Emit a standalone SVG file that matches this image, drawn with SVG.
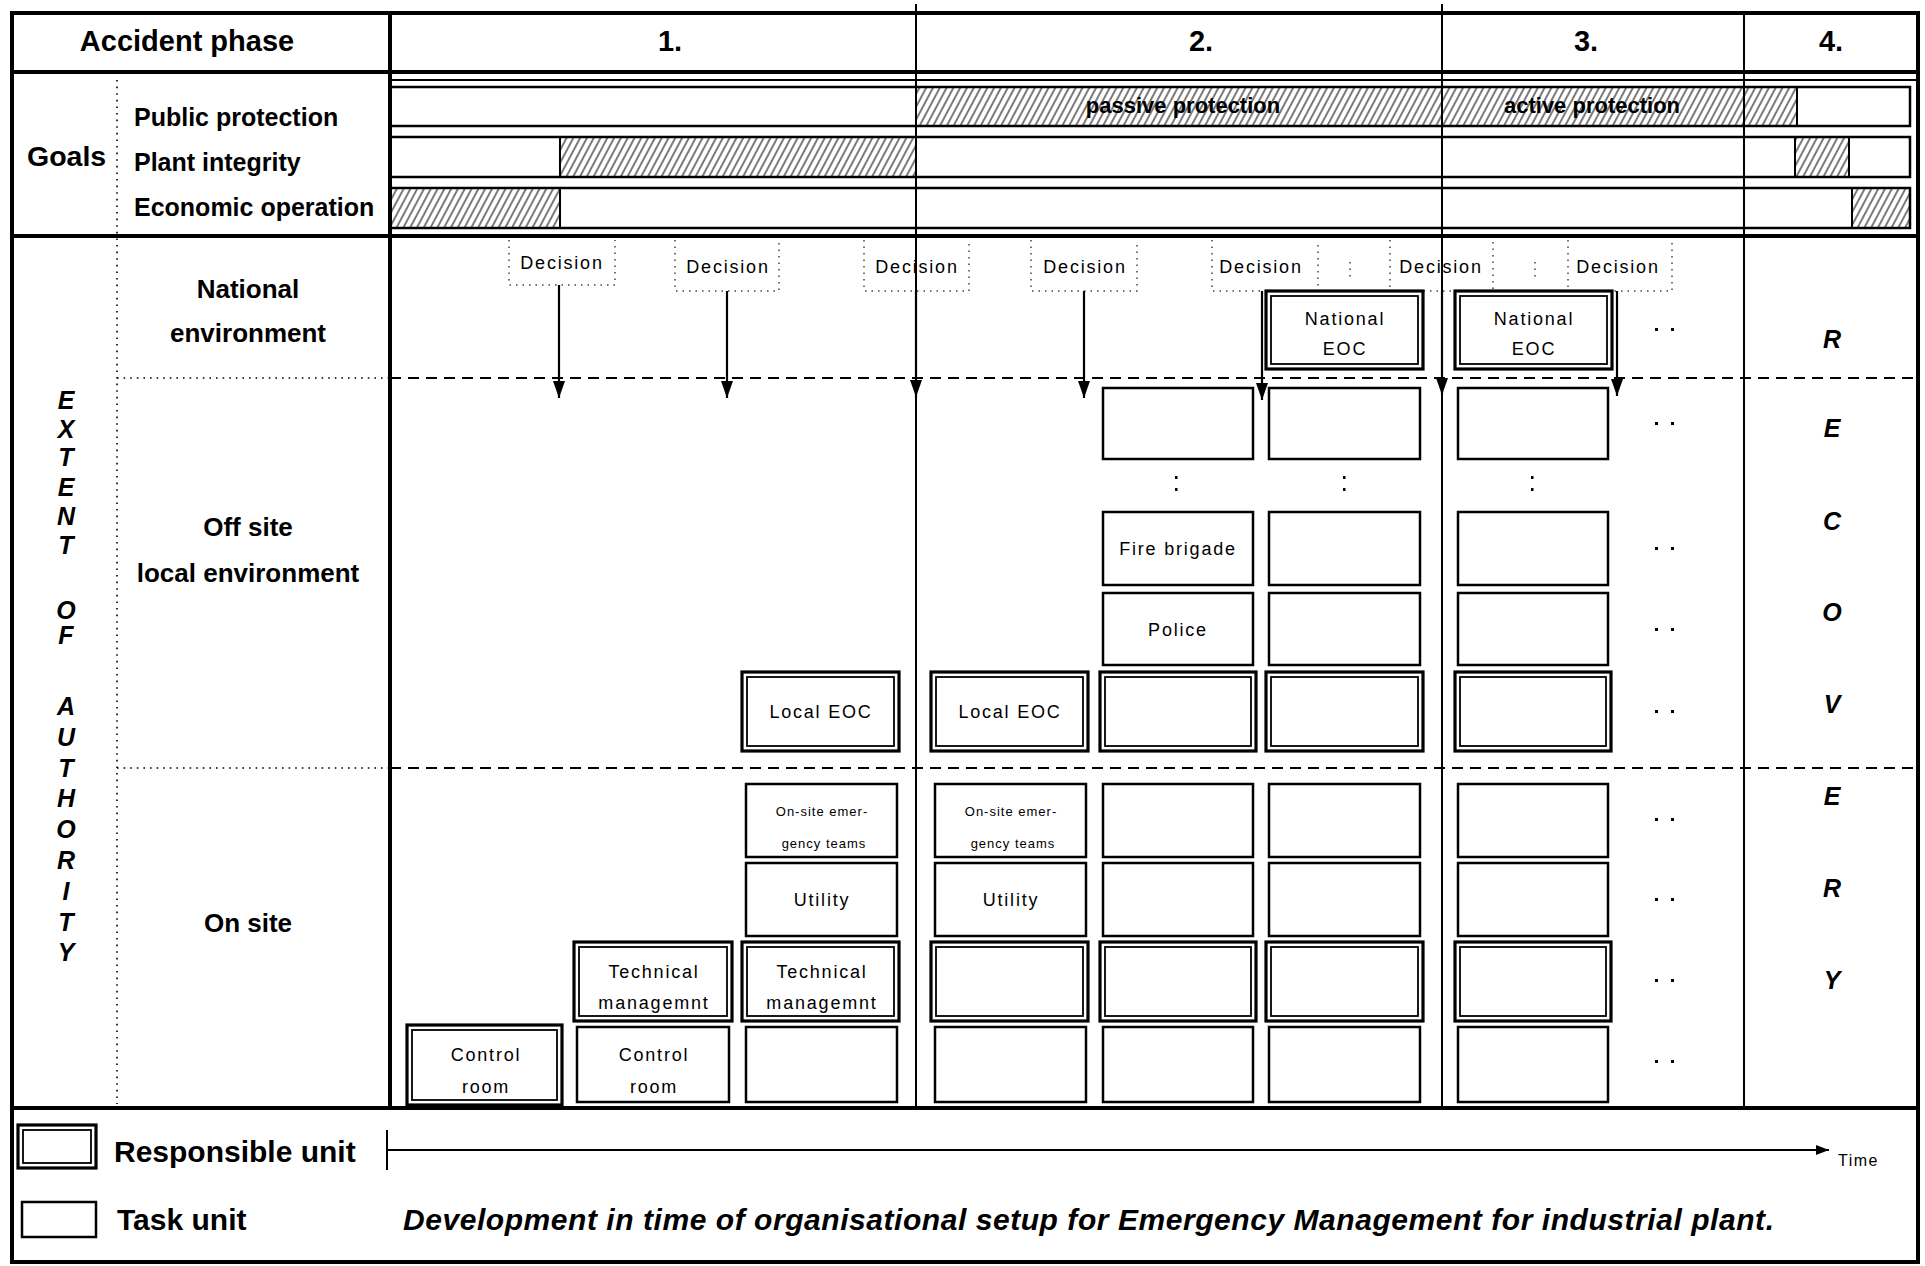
<svg xmlns="http://www.w3.org/2000/svg" width="1925" height="1266" viewBox="0 0 1925 1266">
<defs>
  <pattern id="hatch" patternUnits="userSpaceOnUse" width="6" height="12" patternTransform="rotate(28)">
    <line x1="1" y1="0" x2="1" y2="12" stroke="#333" stroke-width="1.3"/>
  </pattern>
  <marker id="arr" markerUnits="userSpaceOnUse" markerWidth="18" markerHeight="12" refX="17" refY="6" orient="auto">
    <path d="M0,0 L17,6 L0,12 z" fill="#000"/>
  </marker>
  <marker id="arrT" markerUnits="userSpaceOnUse" markerWidth="14" markerHeight="10" refX="13" refY="5" orient="auto">
    <path d="M0,0 L13,5 L0,10 z" fill="#000"/>
  </marker>
</defs>
<style>
  text { font-family: "Liberation Sans", Arial, sans-serif; fill: #000; }
  .hd { font-size: 29px; font-weight: bold; text-anchor: middle; }
  .goal { font-size: 25px; font-weight: bold; }
  .bar { font-size: 22px; font-weight: bold; text-anchor: middle; }
  .area { font-size: 26px; font-weight: bold; text-anchor: middle; }
  .vert { font-size: 25px; font-weight: bold; font-style: italic; text-anchor: middle; }
  .u { font-size: 18px; letter-spacing: 1.8px; text-anchor: middle; }
  .us { font-size: 13px; letter-spacing: 1px; text-anchor: middle; }
  .leg { font-size: 30px; font-weight: bold; }
  .cap { font-size: 30px; font-weight: bold; font-style: italic; }
  .task { fill: #fff; stroke: #000; stroke-width: 2.5; }
  .ro { fill: #fff; stroke: #000; stroke-width: 3.2; }
  .ri { fill: none; stroke: #000; stroke-width: 1.8; }
  .thick { stroke: #000; stroke-width: 4; fill: none; }
  .thin { stroke: #000; stroke-width: 2; fill: none; }
  .dash { stroke: #000; stroke-width: 2.2; stroke-dasharray: 11 7; }
  .dot { stroke: #000; stroke-width: 1.6; stroke-dasharray: 1.6 5; fill: none; }
  .dec { stroke: #444; stroke-width: 1.5; stroke-dasharray: 1.5 5; fill: none; }
  .conn { stroke: #000; stroke-width: 2.2; marker-end: url(#arr); }
  .bf { fill: none; stroke: #000; stroke-width: 2.5; }
  .hatch { fill: url(#hatch); }
</style>

<rect x="0" y="0" width="1925" height="1266" fill="#fff"/>

<!-- goal bars -->
<g id="goal-bars">
  <rect class="hatch" x="916" y="87" width="881" height="39"/>
  <rect class="hatch" x="560" y="137" width="356" height="40"/>
  <rect class="hatch" x="1795" y="137" width="54" height="40"/>
  <rect class="hatch" x="390" y="188" width="170" height="40"/>
  <rect class="hatch" x="1852" y="188" width="58" height="40"/>
  <rect class="bf" x="390" y="87" width="1520" height="39"/>
  <rect class="bf" x="390" y="137" width="1520" height="40"/>
  <rect class="bf" x="390" y="188" width="1520" height="40"/>
  <line class="thin" x1="1797" y1="87" x2="1797" y2="126"/>
  <line class="thin" x1="560" y1="137" x2="560" y2="177"/>
  <line class="thin" x1="1795" y1="137" x2="1795" y2="177"/>
  <line class="thin" x1="1849" y1="137" x2="1849" y2="177"/>
  <line class="thin" x1="560" y1="188" x2="560" y2="228"/>
  <line class="thin" x1="1852" y1="188" x2="1852" y2="228"/>
  <text class="bar" x="1183" y="113">passive protection</text>
  <text class="bar" x="1592" y="113">active protection</text>
</g>

<!-- table frame and grid lines -->
<g id="frame">
  <rect class="thick" x="12" y="13" width="1906" height="1249"/>
  <line class="thick" x1="12" y1="72" x2="1918" y2="72"/>
  <line class="thin" x1="390" y1="80" x2="1918" y2="80"/>
  <line class="thick" x1="12" y1="236" x2="1918" y2="236"/>
  <line class="thick" x1="12" y1="1108" x2="1918" y2="1108"/>
  <line class="thick" x1="390" y1="13" x2="390" y2="1108"/>
  <line class="thin" x1="916" y1="4" x2="916" y2="1108"/>
  <line class="thin" x1="1442" y1="4" x2="1442" y2="1108"/>
  <line class="thin" x1="1744" y1="13" x2="1744" y2="1108"/>
  <line class="dot" x1="117" y1="80" x2="117" y2="1104"/>
  <line class="dot" x1="117" y1="378" x2="390" y2="378"/>
  <line class="dot" x1="117" y1="768" x2="390" y2="768"/>
  <line class="dash" x1="390" y1="378" x2="1918" y2="378"/>
  <line class="dash" x1="390" y1="768" x2="1918" y2="768"/>
</g>

<!-- header and row labels -->
<g id="labels">
  <text class="hd" x="187" y="51">Accident phase</text>
  <text class="hd" x="670" y="51">1.</text>
  <text class="hd" x="1201" y="51">2.</text>
  <text class="hd" x="1586" y="51">3.</text>
  <text class="hd" x="1831" y="51">4.</text>
  <text x="27" y="166" style="font-size:28.5px;font-weight:bold">Goals</text>
  <text class="goal" x="134" y="126">Public protection</text>
  <text class="goal" x="134" y="171">Plant integrity</text>
  <text class="goal" x="134" y="216">Economic operation</text>
  <text class="area" x="248" y="298">National</text>
  <text class="area" x="248" y="342">environment</text>
  <text class="area" x="248" y="536">Off site</text>
  <text class="area" x="248" y="582">local environment</text>
  <text class="area" x="248" y="932">On site</text>
  <g id="extent-of-authority">
    <text class="vert" x="66" y="409">E</text>
    <text class="vert" x="66" y="438">X</text>
    <text class="vert" x="66" y="466">T</text>
    <text class="vert" x="66" y="496">E</text>
    <text class="vert" x="66" y="525">N</text>
    <text class="vert" x="66" y="554">T</text>
    <text class="vert" x="66" y="619">O</text>
    <text class="vert" x="66" y="644">F</text>
    <text class="vert" x="66" y="715">A</text>
    <text class="vert" x="66" y="746">U</text>
    <text class="vert" x="66" y="777">T</text>
    <text class="vert" x="66" y="807">H</text>
    <text class="vert" x="66" y="838">O</text>
    <text class="vert" x="66" y="869">R</text>
    <text class="vert" x="66" y="900">I</text>
    <text class="vert" x="66" y="931">T</text>
    <text class="vert" x="66" y="961">Y</text>
  </g>
  <g id="recovery">
    <text class="vert" x="1832" y="348">R</text>
    <text class="vert" x="1832" y="437">E</text>
    <text class="vert" x="1832" y="530">C</text>
    <text class="vert" x="1832" y="621">O</text>
    <text class="vert" x="1832" y="713">V</text>
    <text class="vert" x="1832" y="805">E</text>
    <text class="vert" x="1832" y="897">R</text>
    <text class="vert" x="1832" y="989">Y</text>
  </g>
</g>

<!-- decision points -->
<g id="decisions">
  <g id="decision-1"><path class="dec" d="M509,240 V285 H615 V240"/><text class="u" x="562" y="269">Decision</text></g>
  <g id="decision-2"><path class="dec" d="M675,240 V291 H779 V240"/><text class="u" x="728" y="273">Decision</text></g>
  <g id="decision-3"><path class="dec" d="M864,240 V291 H969 V240"/><text class="u" x="917" y="273">Decision</text></g>
  <g id="decision-4"><path class="dec" d="M1031,240 V291 H1137 V240"/><text class="u" x="1085" y="273">Decision</text></g>
  <g id="decision-5"><path class="dec" d="M1212,240 V291 H1318 V240"/><text class="u" x="1261" y="273">Decision</text></g>
  <g id="decision-6"><path class="dec" d="M1390,240 V291 H1493 V240"/><text class="u" x="1441" y="273">Decision</text></g>
  <g id="decision-7"><path class="dec" d="M1568,240 V291 H1672 V240"/><text class="u" x="1618" y="273">Decision</text></g>
  <line class="dec" x1="1350" y1="262" x2="1350" y2="278"/>
  <line class="dec" x1="1535" y1="262" x2="1535" y2="278"/>
</g>

<!-- responsible units (double frame) and task units (single frame) -->
<g id="nat-eoc-f"><rect class="ro" x="1266" y="291" width="157" height="78"/><rect class="ri" x="1271" y="296" width="147" height="68"/><text class="u" x="1345" y="325">National</text><text class="u" x="1345" y="355">EOC</text></g>
<g id="nat-eoc-g"><rect class="ro" x="1455" y="291" width="157" height="78"/><rect class="ri" x="1460" y="296" width="147" height="68"/><text class="u" x="1534" y="325">National</text><text class="u" x="1534" y="355">EOC</text></g>

<g id="off-e1"><rect class="task" x="1103" y="388" width="150" height="71"/></g>
<g id="off-f1"><rect class="task" x="1269" y="388" width="151" height="71"/></g>
<g id="off-g1"><rect class="task" x="1458" y="388" width="150" height="71"/></g>

<g id="fire-e"><rect class="task" x="1103" y="512" width="150" height="73"/><text class="u" x="1178" y="555">Fire brigade</text></g>
<g id="fire-f"><rect class="task" x="1269" y="512" width="151" height="73"/></g>
<g id="fire-g"><rect class="task" x="1458" y="512" width="150" height="73"/></g>

<g id="police-e"><rect class="task" x="1103" y="593" width="150" height="72"/><text class="u" x="1178" y="636">Police</text></g>
<g id="police-f"><rect class="task" x="1269" y="593" width="151" height="72"/></g>
<g id="police-g"><rect class="task" x="1458" y="593" width="150" height="72"/></g>

<g id="local-eoc-c"><rect class="ro" x="742" y="672" width="157" height="79"/><rect class="ri" x="747" y="677" width="147" height="69"/><text class="u" x="821" y="718">Local EOC</text></g>
<g id="local-eoc-d"><rect class="ro" x="931" y="672" width="157" height="79"/><rect class="ri" x="936" y="677" width="147" height="69"/><text class="u" x="1010" y="718">Local EOC</text></g>
<g id="local-e"><rect class="ro" x="1100" y="672" width="156" height="79"/><rect class="ri" x="1105" y="677" width="146" height="69"/></g>
<g id="local-f"><rect class="ro" x="1266" y="672" width="157" height="79"/><rect class="ri" x="1271" y="677" width="147" height="69"/></g>
<g id="local-g"><rect class="ro" x="1455" y="672" width="156" height="79"/><rect class="ri" x="1460" y="677" width="146" height="69"/></g>

<g id="onsite-c"><rect class="task" x="746" y="784" width="151" height="73"/><text class="us" x="822" y="816">On-site emer-</text><text class="us" x="824" y="848">gency teams</text></g>
<g id="onsite-d"><rect class="task" x="935" y="784" width="151" height="73"/><text class="us" x="1011" y="816">On-site emer-</text><text class="us" x="1013" y="848">gency teams</text></g>
<g id="onsite-e"><rect class="task" x="1103" y="784" width="150" height="73"/></g>
<g id="onsite-f"><rect class="task" x="1269" y="784" width="151" height="73"/></g>
<g id="onsite-g"><rect class="task" x="1458" y="784" width="150" height="73"/></g>

<g id="utility-c"><rect class="task" x="746" y="863" width="151" height="73"/><text class="u" x="822" y="906">Utility</text></g>
<g id="utility-d"><rect class="task" x="935" y="863" width="151" height="73"/><text class="u" x="1011" y="906">Utility</text></g>
<g id="utility-e"><rect class="task" x="1103" y="863" width="150" height="73"/></g>
<g id="utility-f"><rect class="task" x="1269" y="863" width="151" height="73"/></g>
<g id="utility-g"><rect class="task" x="1458" y="863" width="150" height="73"/></g>

<g id="tech-b"><rect class="ro" x="574" y="942" width="158" height="79"/><rect class="ri" x="579" y="947" width="148" height="69"/><text class="u" x="654" y="978">Technical</text><text class="u" x="654" y="1009">managemnt</text></g>
<g id="tech-c"><rect class="ro" x="742" y="942" width="157" height="79"/><rect class="ri" x="747" y="947" width="147" height="69"/><text class="u" x="822" y="978">Technical</text><text class="u" x="822" y="1009">managemnt</text></g>
<g id="tech-d"><rect class="ro" x="931" y="942" width="157" height="79"/><rect class="ri" x="936" y="947" width="147" height="69"/></g>
<g id="tech-e"><rect class="ro" x="1100" y="942" width="156" height="79"/><rect class="ri" x="1105" y="947" width="146" height="69"/></g>
<g id="tech-f"><rect class="ro" x="1266" y="942" width="157" height="79"/><rect class="ri" x="1271" y="947" width="147" height="69"/></g>
<g id="tech-g"><rect class="ro" x="1455" y="942" width="156" height="79"/><rect class="ri" x="1460" y="947" width="146" height="69"/></g>

<g id="control-a"><rect class="ro" x="407" y="1025" width="155" height="80"/><rect class="ri" x="412" y="1030" width="145" height="70"/><text class="u" x="486" y="1061">Control</text><text class="u" x="486" y="1093">room</text></g>
<g id="control-b"><rect class="task" x="577" y="1027" width="152" height="75"/><text class="u" x="654" y="1061">Control</text><text class="u" x="654" y="1093">room</text></g>
<g id="control-c"><rect class="task" x="746" y="1027" width="151" height="75"/></g>
<g id="control-d"><rect class="task" x="935" y="1027" width="151" height="75"/></g>
<g id="control-e"><rect class="task" x="1103" y="1027" width="150" height="75"/></g>
<g id="control-f"><rect class="task" x="1269" y="1027" width="151" height="75"/></g>
<g id="control-g"><rect class="task" x="1458" y="1027" width="150" height="75"/></g>

<!-- continuation marks -->
<g id="ellipses" fill="#000">
  <rect x="1655" y="328" width="3" height="3"/><rect x="1671" y="328" width="3" height="3"/>
  <rect x="1655" y="422" width="3" height="3"/><rect x="1671" y="422" width="3" height="3"/>
  <rect x="1655" y="547" width="3" height="3"/><rect x="1671" y="547" width="3" height="3"/>
  <rect x="1655" y="628" width="3" height="3"/><rect x="1671" y="628" width="3" height="3"/>
  <rect x="1655" y="710" width="3" height="3"/><rect x="1671" y="710" width="3" height="3"/>
  <rect x="1655" y="818" width="3" height="3"/><rect x="1671" y="818" width="3" height="3"/>
  <rect x="1655" y="898" width="3" height="3"/><rect x="1671" y="898" width="3" height="3"/>
  <rect x="1655" y="979" width="3" height="3"/><rect x="1671" y="979" width="3" height="3"/>
  <rect x="1655" y="1060" width="3" height="3"/><rect x="1671" y="1060" width="3" height="3"/>
  <rect x="1175" y="476" width="2.5" height="3"/><rect x="1175" y="488" width="2.5" height="3"/>
  <rect x="1343" y="476" width="2.5" height="3"/><rect x="1343" y="488" width="2.5" height="3"/>
  <rect x="1531" y="476" width="2.5" height="3"/><rect x="1531" y="488" width="2.5" height="3"/>
</g>

<!-- decision arrows -->
<g id="connectors">
  <line class="conn" x1="559" y1="285" x2="559" y2="398"/>
  <line class="conn" x1="727" y1="291" x2="727" y2="398"/>
  <line class="conn" x1="916" y1="291" x2="916" y2="397"/>
  <line class="conn" x1="1084" y1="291" x2="1084" y2="398"/>
  <line class="conn" x1="1262" y1="291" x2="1262" y2="400"/>
  <line class="conn" x1="1442" y1="291" x2="1442" y2="395"/>
  <line class="conn" x1="1617" y1="291" x2="1617" y2="396"/>
</g>

<!-- legend and time axis -->
<g id="legend">
  <g id="legend-responsible"><rect class="ro" x="18" y="1125" width="78" height="43"/><rect class="ri" x="23" y="1130" width="68" height="33"/><text class="leg" x="114" y="1162">Responsible unit</text></g>
  <g id="legend-task"><rect class="task" x="22" y="1202" width="74" height="35"/><text class="leg" x="117" y="1230">Task unit</text></g>
  <g id="time-axis">
    <line class="thin" x1="387" y1="1130" x2="387" y2="1170"/>
    <line x1="387" y1="1150" x2="1829" y2="1150" stroke="#000" stroke-width="2" marker-end="url(#arrT)"/>
    <text x="1838" y="1166" style="font-size:16px;letter-spacing:1.5px">Time</text>
  </g>
  <text class="cap" x="403" y="1230" textLength="1371" lengthAdjust="spacing">Development in time of organisational setup for Emergency Management for industrial plant.</text>
</g>
</svg>
